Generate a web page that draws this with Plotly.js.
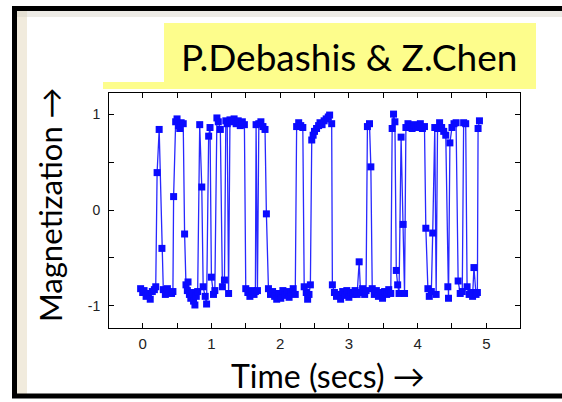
<!DOCTYPE html>
<html>
<head>
<meta charset="utf-8">
<script src="https://cdn.plot.ly/plotly-3.0.1.min.js"></script>
<style>
html,body{margin:0;padding:0;background:#fff;}
#chart{width:562px;height:402px;}
</style>
</head>
<body>
<div id="chart"></div>
<script>
// ---- data ----
const timeSecs = [
 -0.03,0.00,0.02,0.05,0.08,0.11,0.14,0.17,0.19,0.21,0.24,0.28,0.30,0.33,0.36,0.39,0.42,0.44,0.45,0.48,
 0.50,0.52,0.54,0.56,0.59,0.61,0.63,0.65,0.66,0.68,0.70,0.72,0.74,0.76,0.78,0.80,0.83,0.86,0.88,0.91,
 0.93,0.96,0.98,1.00,1.03,1.05,1.08,1.10,1.13,1.16,1.19,1.21,1.23,1.25,1.27,1.30,1.33,1.36,1.39,1.42,
 1.45,1.48,1.50,1.53,1.56,1.59,1.62,1.64,1.65,1.67,1.69,1.72,1.75,1.78,1.80,1.83,1.86,1.89,1.92,1.95,
 1.98,2.01,2.04,2.07,2.10,2.13,2.16,2.19,2.22,2.24,2.27,2.30,2.33,2.35,2.38,2.40,2.42,2.44,2.46,2.48,
 2.50,2.53,2.56,2.58,2.61,2.64,2.67,2.70,2.72,2.75,2.76,2.79,2.82,2.85,2.88,2.91,2.94,2.97,3.00,3.03,
 3.06,3.09,3.12,3.15,3.17,3.20,3.23,3.25,3.27,3.30,3.32,3.34,3.37,3.40,3.43,3.46,3.49,3.52,3.55,3.58,
 3.61,3.63,3.65,3.67,3.69,3.71,3.73,3.76,3.79,3.81,3.83,3.86,3.89,3.92,3.95,3.98,4.01,4.04,4.07,4.10,
 4.12,4.15,4.17,4.20,4.22,4.25,4.27,4.29,4.32,4.35,4.38,4.41,4.44,4.45,4.47,4.50,4.53,4.56,4.59,4.62,
 4.65,4.67,4.70,4.72,4.75,4.78,4.80,4.82,4.85,4.87,4.88,4.90
];
const magnetization = [
 -0.82,-0.86,-0.84,-0.90,-0.87,-0.93,-0.85,-0.83,-0.80,0.39,0.84,-0.40,-0.83,-0.88,-0.82,-0.86,-0.87,-0.85,0.14,0.92,
 0.95,0.88,0.85,0.91,0.90,-0.25,-0.78,-0.84,-0.75,-0.88,-0.92,-0.86,-0.95,-0.99,-0.90,-0.85,0.89,0.24,-0.80,-0.90,
 -0.98,0.77,0.86,-0.70,-0.88,-0.84,0.96,0.92,0.84,-0.80,-0.73,0.93,0.90,-0.87,0.94,0.92,0.95,0.90,0.93,0.88,
 0.92,0.89,-0.82,-0.86,-0.90,-0.84,-0.88,-0.85,0.89,-0.84,0.90,0.92,0.87,0.84,-0.04,-0.82,-0.88,-0.85,-0.90,-0.93,
 -0.87,-0.92,-0.84,-0.89,-0.85,-0.91,-0.86,-0.82,-0.88,0.87,0.91,0.88,0.86,-0.80,-0.86,-0.93,-0.88,-0.78,0.73,0.78,
 0.82,0.85,0.88,0.91,0.89,0.93,0.95,0.97,0.99,0.90,-0.78,-0.86,-0.90,-0.88,-0.93,-0.85,-0.89,-0.84,-0.91,-0.86,
 -0.88,-0.84,-0.88,-0.54,-0.86,-0.82,-0.88,-0.84,0.87,0.90,0.45,-0.82,-0.88,-0.84,-0.90,-0.86,-0.92,-0.85,-0.88,-0.83,
 -0.87,0.85,1.00,0.92,-0.63,-0.78,-0.87,0.76,-0.15,-0.87,0.86,0.90,0.87,0.85,0.89,0.86,0.88,0.90,0.85,0.87,
 -0.19,-0.82,-0.90,-0.85,-0.24,0.86,-0.88,0.85,0.91,0.86,0.82,0.78,-0.80,-0.92,0.70,0.86,0.90,0.91,-0.74,-0.87,
 -0.85,0.91,0.90,-0.80,-0.88,-0.86,-0.90,-0.60,-0.88,-0.86,0.85,0.93
];
const xTickVals = [0,0.5,1,1.5,2,2.5,3,3.5,4,4.5,5];
const xTickText = ['0','','1','','2','','3','','4','','5'];
const yTickVals = [-1,-0.5,0,0.5,1];
const yTickText = ['-1','','0','','1'];
const headline = 'P.Debashis &amp; Z.Chen';
const xTitle = 'Time (secs) →';
const yTitle = 'Magnetization →';

// ---- layout helpers (pixel -> paper) ----
const L = 109, R = 520, T = 93, B = 328;
const px = x => (x - L) / (R - L);
const py = y => (B - y) / (B - T);

const trace = {
  x: timeSecs, y: magnetization, type: 'scatter', mode: 'lines+markers',
  line: {color: 'rgb(40,40,255)', width: 1.3},
  marker: {symbol: 'square', size: 7, color: 'rgb(10,10,255)'},
  hoverinfo: 'skip', showlegend: false
};

const axisCommon = {
  showgrid: false, zeroline: false, showline: true, linecolor: '#000', linewidth: 1,
  mirror: 'ticks', ticks: 'inside', ticklen: 5, tickwidth: 1, tickcolor: '#000',
  tickfont: {family: 'Liberation Sans, Arial', size: 14, color: '#222'}
};

const layout = {
  width: 562, height: 402,
  margin: {l: L, r: 562 - R, t: T, b: 402 - B, pad: 0},
  paper_bgcolor: '#fff', plot_bgcolor: '#fff',
  xaxis: Object.assign({}, axisCommon, {range: [-0.49, 5.49], tickmode: 'array', tickvals: xTickVals, ticktext: xTickText, ticklabelstandoff: 2,
    tickfont: {family: 'Liberation Sans, Arial', size: 15, color: '#222'}}),
  yaxis: Object.assign({}, axisCommon, {range: [-1.23, 1.22], tickmode: 'array', tickvals: yTickVals, ticktext: yTickText, ticklabelstandoff: 5}),
  shapes: [
    {type: 'rect', xref: 'paper', yref: 'paper', x0: px(17), x1: px(27), y0: py(395), y1: py(11), fillcolor: 'rgba(225,210,180,0.45)', line: {width: 0}, layer: 'below'},
    {type: 'rect', xref: 'paper', yref: 'paper', x0: px(17), x1: px(562), y0: py(17), y1: py(11), fillcolor: 'rgba(215,210,200,0.45)', line: {width: 0}, layer: 'below'},
    {type: 'rect', xref: 'paper', yref: 'paper', x0: px(108), x1: px(528), y0: py(393), y1: py(351), fillcolor: '#fff', line: {width: 0}, layer: 'above'},
    {type: 'rect', xref: 'paper', yref: 'paper', x0: px(103), x1: px(536), y0: py(89), y1: py(23), fillcolor: '#fdfd8c', line: {width: 0}, layer: 'above'},
    {type: 'rect', xref: 'paper', yref: 'paper', x0: px(103), x1: px(164), y0: py(82), y1: py(23), fillcolor: '#fff', line: {width: 0}, layer: 'above'},
    {type: 'rect', xref: 'paper', yref: 'paper', x0: px(14.5), x1: px(570), y0: py(396), y1: py(8.5), fillcolor: 'rgba(0,0,0,0)', line: {color: '#000', width: 5}, layer: 'above'}
  ],
  annotations: [
    {xref: 'paper', yref: 'paper', x: px(349), y: py(56), text: headline, showarrow: false, xanchor: 'center', yanchor: 'middle',
     font: {family: 'Lato, Carlito, sans-serif', size: 37, color: '#000'}},
    {xref: 'paper', yref: 'paper', x: px(328), y: py(375), text: xTitle, showarrow: false, xanchor: 'center', yanchor: 'middle',
     font: {family: 'Lato, sans-serif', size: 32, color: '#000'}},
    {xref: 'paper', yref: 'paper', x: px(50), y: py(205), text: yTitle, showarrow: false, xanchor: 'center', yanchor: 'middle', textangle: -90,
     font: {family: 'Lato, sans-serif', size: 31, color: '#000'}}
  ]
};

Plotly.newPlot('chart', [trace], layout, {staticPlot: true, displayModeBar: false});
</script>
</body>
</html>
